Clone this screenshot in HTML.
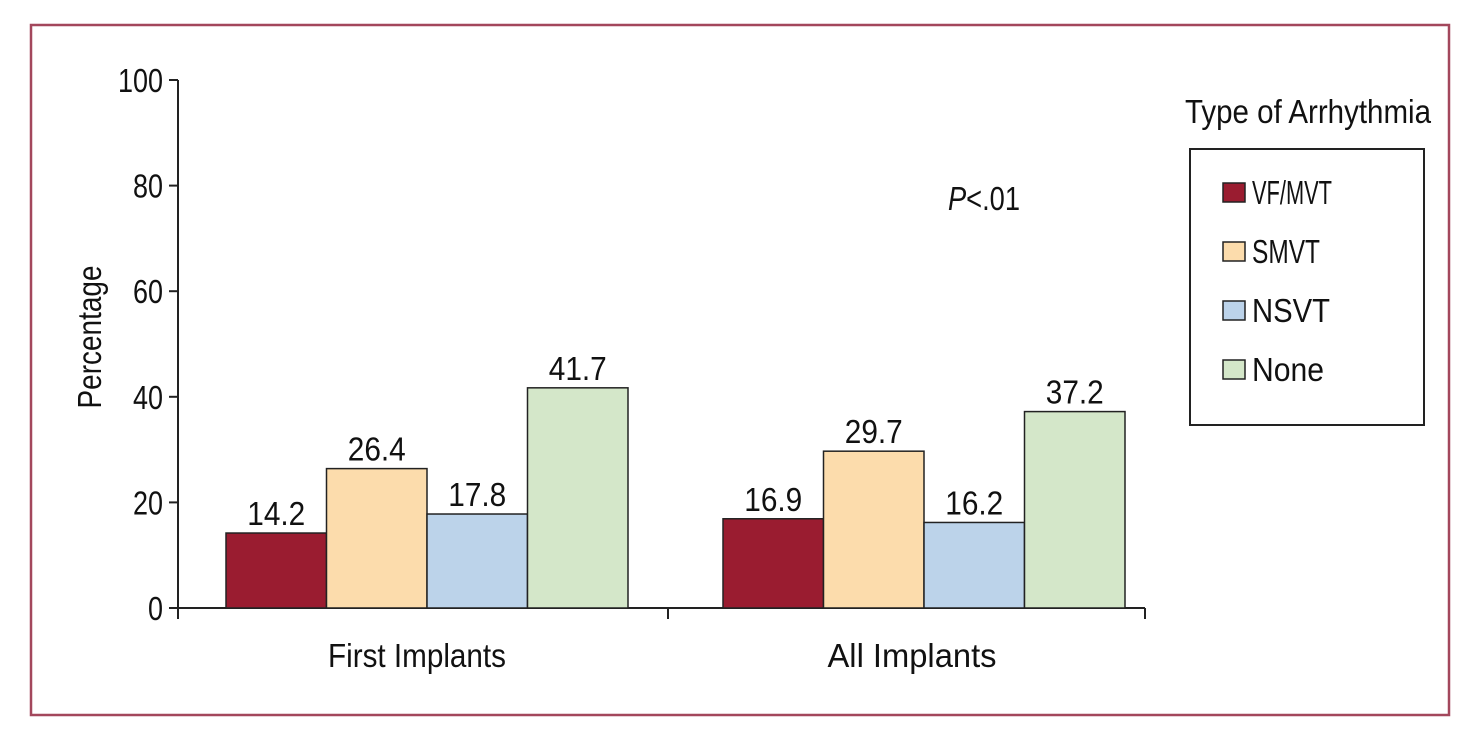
<!DOCTYPE html>
<html><head><meta charset="utf-8"><style>
html,body{margin:0;padding:0;background:#fff;}
svg{display:block;}
text{font-family:"Liberation Sans Narrow","Liberation Sans",sans-serif;font-size:33px;fill:#111;}
</style></head><body>
<svg id="chart" width="1483" height="737">
<rect x="31" y="25" width="1418" height="690" fill="none" stroke="#a3475c" stroke-width="2.5"/>
<g id="plot"></g>
</svg>
<script>
const groups = ["First Implants", "All Implants"];
const series = ["VF/MVT", "SMVT", "NSVT", "None"];
const vfmvt = [14.2, 16.9];
const smvt = [26.4, 29.7];
const nsvt = [17.8, 16.2];
const none = [41.7, 37.2];
const yTicks = [0, 20, 40, 60, 80, 100];
const colors = ["#9a1c30", "#fcdcac", "#bcd3ea", "#d4e7c9"];
const values = [vfmvt, smvt, nsvt, none];

const NS = "http://www.w3.org/2000/svg";
const g = document.getElementById("plot");
const y0 = 608, y100 = 80;
const y = v => y0 - (v / 100) * (y0 - y100);
const groupStart = [226, 723];
const barW = 100.5;
const xBar = (gi, si) => groupStart[gi] + si * barW;

function mk(tag, attrs, txt) {
  const e = document.createElementNS(NS, tag);
  for (const k in attrs) e.setAttribute(k, attrs[k]);
  if (txt !== undefined) e.textContent = txt;
  g.appendChild(e);
  return e;
}

let a = mk("line", {x1:178, y1:y100, x2:178, y2:y0, stroke:"#222", "stroke-width":2});


a = mk("line", {x1:178, y1:y0, x2:1145, y2:y0, stroke:"#222", "stroke-width":2});


[178, 668, 1145].forEach(x => {
  const t = mk("line", {x1:x, y1:y0, x2:x, y2:619, stroke:"#222", "stroke-width":2});
  
  
});
yTicks.forEach(v => {
  const t = mk("line", {x1:169, y1:y(v), x2:178, y2:y(v), stroke:"#222", "stroke-width":2});
  
  
  const l = mk("text", {x:163, y:y(v) + 12, "text-anchor":"end", textLength: String(v).length * 15, lengthAdjust:"spacingAndGlyphs"}, v);
  
  
});
let yt = mk("text", {x:0, y:0, "text-anchor":"middle", transform:"translate(101,337) rotate(-90)", textLength:143, lengthAdjust:"spacingAndGlyphs"}, "Percentage");



groups.forEach((gn, gi) => {
  values.forEach((arr, si) => {
    const v = arr[gi];
    const b = mk("rect", {x:xBar(gi, si), y:y(v), width:barW, height:y0 - y(v), fill:colors[si], stroke:"#222", "stroke-width":1.5});
    
    
    const s = v.toFixed(1);
    const l = mk("text", {x:xBar(gi, si) + barW / 2, y:y(v) - 8, "text-anchor":"middle", textLength:s.length * 14.5, lengthAdjust:"spacingAndGlyphs"}, s);
    
    
  });
  const cx = groupStart[gi] + 2 * barW;
  const gl = mk("text", {x:cx - (gi ? 12 : 10), y:667, "text-anchor":"middle", textLength: gi ? 169 : 178, lengthAdjust:"spacingAndGlyphs"}, gn);
  
  
});

let p = mk("text", {x:948, y:210, textLength:72, lengthAdjust:"spacingAndGlyphs"});
p.innerHTML = '<tspan font-style="italic">P</tspan>&lt;.01';



let lt = mk("text", {x:1185, y:123, textLength:246, lengthAdjust:"spacingAndGlyphs"}, "Type of Arrhythmia");


let lb = mk("rect", {x:1190, y:149, width:234, height:276, fill:"none", stroke:"#222", "stroke-width":2});


const legW = [80, 68, 78, 72];
series.forEach((s, i) => {
  const yy = 183 + i * 59;
  const sw = mk("rect", {x:1223, y:yy, width:22, height:19, fill:colors[i], stroke:"#222", "stroke-width":1.5});
  
  
  const t = mk("text", {x:1252, y:yy + 21, textLength:legW[i], lengthAdjust:"spacingAndGlyphs"}, s);
  
  
});
</script>
</body></html>
